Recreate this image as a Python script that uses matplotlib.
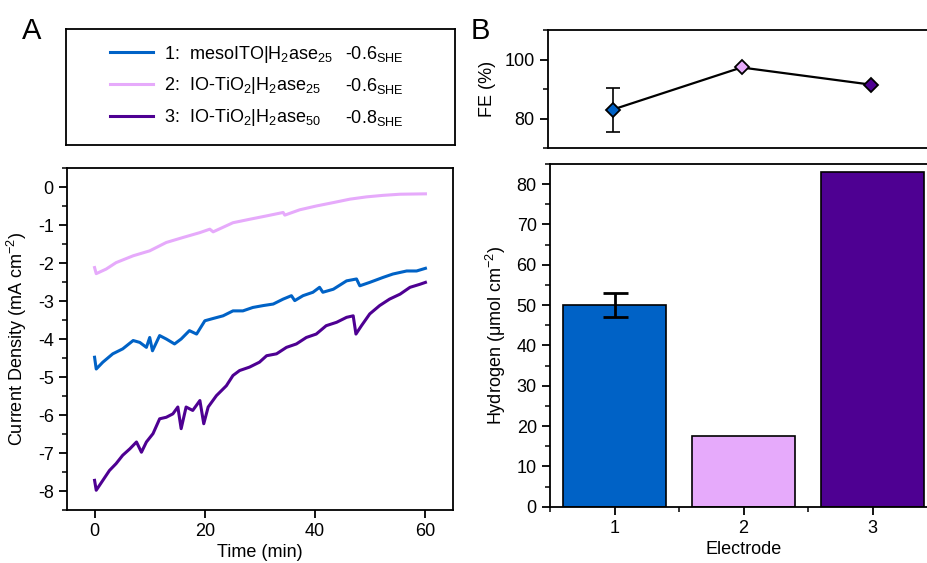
import matplotlib
matplotlib.use("Agg")
import matplotlib.pyplot as plt
from matplotlib.ticker import MultipleLocator

plt.rcParams['font.family'] = ['Liberation Sans', 'DejaVu Sans']
plt.rcParams['mathtext.fontset'] = 'custom'
plt.rcParams['mathtext.rm'] = 'Liberation Sans'
plt.rcParams['mathtext.it'] = 'Liberation Sans:italic'
plt.rcParams['mathtext.default'] = 'regular'
plt.rcParams['axes.unicode_minus'] = False

# ---------------- data ----------------
blue = "#0062C6"
pink = "#E6AAFB"
purple = "#4E0092"

t_blue = [0, 0.3, 1.5, 3.3, 5.1, 7.0, 8.2, 9.4, 10.0, 10.5, 11.8, 13.0, 14.5, 15.7, 17.2, 18.5,
          20.0, 21.5, 23.3, 25.1, 26.9, 28.7, 30.6, 32.4, 34.2, 35.7, 36.3, 37.8, 39.6, 40.8,
          41.4, 43.3, 45.7, 47.5, 48.1, 49.9, 52.3, 54.1, 56.6, 58.4, 60.0]
j_blue = [-4.48, -4.79, -4.61, -4.39, -4.26, -4.04, -4.09, -4.22, -3.96, -4.31, -3.91, -4.00,
          -4.13, -4.00, -3.78, -3.87, -3.52, -3.46, -3.39, -3.26, -3.26, -3.17, -3.12, -3.08,
          -2.95, -2.86, -2.99, -2.86, -2.77, -2.64, -2.77, -2.69, -2.47, -2.42, -2.60, -2.51,
          -2.38, -2.29, -2.21, -2.21, -2.14]

t_pink = [0, 0.3, 2.1, 3.9, 7.0, 10.0, 13.0, 16.0, 19.1, 20.9, 21.5, 25.1, 28.1, 31.2, 34.2,
          34.5, 37.2, 40.2, 43.3, 46.3, 49.3, 52.3, 55.4, 60.0]
j_pink = [-2.12, -2.28, -2.16, -1.99, -1.81, -1.68, -1.46, -1.33, -1.20, -1.11, -1.18, -0.94,
          -0.85, -0.76, -0.67, -0.74, -0.60, -0.50, -0.41, -0.32, -0.26, -0.22, -0.19, -0.18]

t_purple = [0, 0.3, 1.5, 2.7, 3.9, 5.1, 6.4, 7.6, 8.5, 9.4, 10.6, 11.8, 13.0, 14.2, 15.1, 15.7,
            16.6, 17.8, 19.1, 19.8, 20.6, 22.1, 23.9, 25.1, 26.3, 28.1, 29.9, 31.2, 33.0, 34.8,
            36.6, 38.4, 40.2, 42.0, 43.9, 45.7, 46.9, 47.4, 48.4, 49.9, 51.7, 53.5, 55.4, 57.2,
            59.0, 60.0]
j_purple = [-7.72, -7.98, -7.72, -7.46, -7.28, -7.06, -6.89, -6.71, -6.98, -6.71, -6.49, -6.10,
            -6.06, -5.97, -5.79, -6.36, -5.79, -5.88, -5.62, -6.23, -5.79, -5.49, -5.23, -4.96,
            -4.83, -4.74, -4.61, -4.44, -4.39, -4.22, -4.13, -3.96, -3.87, -3.65, -3.56, -3.43,
            -3.39, -3.87, -3.65, -3.34, -3.12, -2.95, -2.82, -2.64, -2.56, -2.51]

labels = ["1:  mesoITO|H$_2$ase$_{25}$", "2:  IO-TiO$_2$|H$_2$ase$_{25}$",
          "3:  IO-TiO$_2$|H$_2$ase$_{50}$"]
potentials = ["-0.6$_{SHE}$", "-0.6$_{SHE}$", "-0.8$_{SHE}$"]

electrodes = [1, 2, 3]
fe = [83.0, 97.3, 91.5]
fe_err = [7.5, 0, 0]
hydrogen = [50.0, 17.5, 83.0]
hydrogen_err = [2.9, 0, 0]
colors = [blue, pink, purple]

FS = 13
W, H = 927, 563
fig = plt.figure(figsize=(W / 100, H / 100), dpi=100)

def frac(l, t, r, b):
    return [l / W, 1 - b / H, (r - l) / W, (b - t) / H]

def style(ax):
    for s in ax.spines.values():
        s.set_linewidth(1.3)
    ax.tick_params(which='major', direction='out', length=6, width=1.3, labelsize=FS)
    ax.tick_params(which='minor', direction='out', length=3.5, width=1.1)

# ---------------- panel A ----------------
axA = fig.add_axes(frac(67, 168, 453, 510))
hA = []
for t, j, c in [(t_blue, j_blue, blue), (t_pink, j_pink, pink), (t_purple, j_purple, purple)]:
    ln, = axA.plot(t, j, color=c, lw=2.2)
    hA.append(ln)
axA.set_xlim(-5, 65)
axA.set_ylim(-8.5, 0.5)
axA.xaxis.set_major_locator(MultipleLocator(20))
axA.yaxis.set_major_locator(MultipleLocator(1))
axA.yaxis.set_minor_locator(MultipleLocator(0.5))
style(axA)
axA.set_xlabel("Time (min)", fontsize=FS, labelpad=3)
axA.set_ylabel("Current Density (mA cm$^{-2}$)", fontsize=FS, labelpad=6)

# legend box
axL = fig.add_axes(frac(66, 29, 455, 145))
axL.set_xticks([]); axL.set_yticks([])
for s in axL.spines.values():
    s.set_linewidth(1.3)
leg = axL.legend(hA, labels, loc='center left', bbox_to_anchor=(0.113, 0.509),
                 frameon=False, fontsize=FS, handlelength=2.4, handletextpad=0.6,
                 labelspacing=0.6, borderpad=0, borderaxespad=0)
fig.canvas.draw()
inv = axL.transAxes.inverted()
for txt, p in zip(leg.get_texts(), potentials):
    bb = txt.get_window_extent()
    y = inv.transform(((bb.x0 + bb.x1) / 2, (bb.y0 + bb.y1) / 2))[1]
    axL.text(0.717, y, p, transform=axL.transAxes, fontsize=FS, va='center', ha='left')

fig.text(22 / W, 1 - 31 / H, "A", fontsize=21, va='center', ha='left')
fig.text(471 / W, 1 - 31 / H, "B", fontsize=21, va='center', ha='left')

# ---------------- panel B top (FE) ----------------
axF = fig.add_axes(frac(548, 30, 935, 148))
axF.plot(electrodes, fe, color='black', lw=1.6, zorder=2)
axF.errorbar(electrodes[:1], fe[:1], yerr=fe_err[:1], fmt='none', ecolor='black',
             elinewidth=1.2, capsize=5, capthick=1.2, zorder=1)
for x, y, c in zip(electrodes, fe, colors):
    axF.plot([x], [y], marker='D', ms=7.5, mfc=c, mec='black', mew=1.3, zorder=3)
axF.set_xlim(0.5, 3.5)
axF.set_ylim(70, 110)
axF.yaxis.set_major_locator(MultipleLocator(20))
axF.yaxis.set_minor_locator(MultipleLocator(10))
style(axF)
axF.set_xticks([])
axF.set_ylabel("FE (%)", fontsize=FS, labelpad=6)

# ---------------- panel B bottom (bars) ----------------
axB = fig.add_axes(frac(550, 164, 937, 506.7))
axB.bar(electrodes, hydrogen, width=0.8, color=colors, edgecolor='black', lw=1.2)
axB.errorbar(electrodes[:1], hydrogen[:1], yerr=hydrogen_err[:1], fmt='none', ecolor='black',
             elinewidth=2, capsize=9, capthick=2)
axB.set_xlim(0.5, 3.5)
axB.set_ylim(0, 85)
axB.set_xticks(electrodes)
axB.xaxis.set_minor_locator(MultipleLocator(0.5))
axB.yaxis.set_major_locator(MultipleLocator(10))
axB.yaxis.set_minor_locator(MultipleLocator(5))
style(axB)
axB.set_xlabel("Electrode", fontsize=FS, labelpad=3)
axB.set_ylabel("Hydrogen (μmol cm$^{-2}$)", fontsize=FS, labelpad=6)

fig.savefig("out.png", dpi=100)
